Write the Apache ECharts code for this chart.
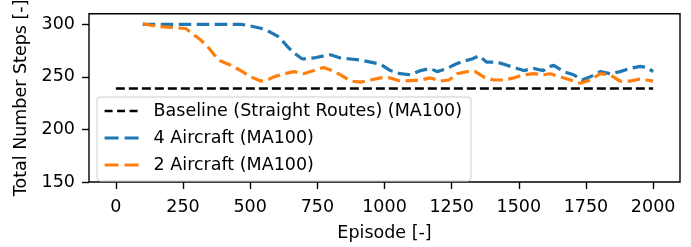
<!DOCTYPE html>
<html>
<head>
<meta charset="utf-8">
<script src="https://cdn.jsdelivr.net/npm/echarts@6/dist/echarts.min.js"></script>
<style>
  html, body { margin: 0; padding: 0; background: #fff; }
  #chart { width: 691px; height: 247px; }
</style>
</head>
<body>
<div id="chart"></div>
<script>
// MA100 curves
const episodes4 = [100, 200, 300, 400, 465, 502, 539, 576, 607, 638, 662, 694, 737, 774, 799, 836, 874, 911, 948, 985,
  1022, 1059, 1097, 1134, 1171, 1196, 1233, 1264, 1295, 1326, 1351, 1381, 1419, 1444, 1481, 1518, 1555, 1592, 1605, 1630,
  1667, 1704, 1735, 1766, 1803, 1840, 1877, 1914, 1952, 1976, 2000];
const steps4 = [300, 300, 300, 300, 300, 298.4, 296.3, 292.4, 288, 279, 273, 267, 268, 270, 271, 268, 267, 266, 264, 262,
  256, 253, 252, 256, 258, 255, 258, 262, 265, 267, 270, 264, 264, 262, 259, 256, 258, 256, 259, 261,
  255, 252, 247, 250, 255, 253, 255, 258, 260, 259, 255];

const episodes2 = [100, 155, 204, 260, 285, 316, 341, 366, 390, 428, 465, 502, 539, 563, 588, 613, 662, 699, 737, 774,
  805, 836, 874, 911, 948, 985, 1022, 1059, 1097, 1134, 1171, 1208, 1240, 1270, 1307, 1338, 1369, 1406, 1444, 1481,
  1518, 1555, 1592, 1617, 1654, 1692, 1729, 1766, 1803, 1840, 1877, 1914, 1952, 1976, 2000];
const steps2 = [300.5, 298, 297, 296, 291, 285, 279, 271, 265, 261, 256, 250, 246, 247, 250, 252, 255, 253, 256, 259,
  256, 252, 246, 245, 247, 249, 249, 246, 246.5, 247, 249, 246, 247, 253, 255, 255, 250, 247, 247, 249,
  252, 253, 252, 253, 250, 247, 244, 247, 253, 252, 246, 246, 248, 247, 246];

const baselineEpisodes = [0, 2000];
const baselineSteps = [239, 239];

const xTicks = [0, 250, 500, 750, 1000, 1250, 1500, 1750, 2000];
const yTicks = [150, 200, 250, 300];

const FONT = 'DejaVu Sans';
const FS = 17.5;

function zip(xs, ys) {
    return xs.map((x, i) => [x, ys[i]]);
}

let myChart = echarts.init(document.getElementById('chart'), null, { renderer: 'canvas' });

myChart.setOption({
    animation: false,
    backgroundColor: '#fff',
    grid: {
        left: 89, top: 12, width: 591, height: 177,
        show: true, borderColor: '#000', borderWidth: 1.4, backgroundColor: 'transparent'
    },
    legend: {
        orient: 'vertical',
        left: 97, top: 97,
        itemWidth: 34, itemHeight: 14, itemGap: 9,
        padding: [5, 9, 7, 6],
        backgroundColor: 'rgba(255,255,255,0.8)',
        borderColor: '#cccccc', borderWidth: 1, borderRadius: 3,
        itemStyle: { opacity: 0 },
        textStyle: { fontFamily: FONT, fontSize: FS, color: '#000', padding: [0, 0, 0, 10] },
        data: [
            { name: 'Baseline (Straight Routes) (MA100)', lineStyle: { type: [8, 4.5], width: 2.4 } },
            { name: '4 Aircraft (MA100)', lineStyle: { type: [14, 6], width: 3.2 } },
            { name: '2 Aircraft (MA100)', lineStyle: { type: [14, 6], width: 3.2 } }
        ]
    },
    xAxis: {
        type: 'value', min: -100, max: 2100,
        name: 'Episode [-]', nameLocation: 'middle', nameGap: 42,
        nameTextStyle: { fontFamily: FONT, fontSize: FS, color: '#000' },
        axisLine: { show: false, onZero: false },
        axisTick: { show: true, length: 7, lineStyle: { color: '#000', width: 1.4 }, customValues: xTicks },
        axisLabel: { fontFamily: FONT, fontSize: FS, color: '#000', margin: 16, customValues: xTicks,
            formatter: v => String(v) },
        splitLine: { show: false }
    },
    yAxis: {
        type: 'value', min: 150, max: 310,
        name: 'Total Number Steps [-]', nameLocation: 'middle', nameGap: 54,
        nameTextStyle: { fontFamily: FONT, fontSize: FS, color: '#000' },
        axisLine: { show: false, onZero: false },
        axisTick: { show: true, length: 7, lineStyle: { color: '#000', width: 1.4 }, customValues: yTicks },
        axisLabel: { fontFamily: FONT, fontSize: FS, color: '#000', margin: 14, customValues: yTicks,
            formatter: v => String(v) },
        splitLine: { show: false }
    },
    series: [
        {
            name: 'Baseline (Straight Routes) (MA100)', type: 'line', symbol: 'none',
            data: zip(baselineEpisodes, baselineSteps),
            lineStyle: { color: '#000', width: 2.4, type: [9, 4] },
            itemStyle: { color: '#000' }
        },
        {
            name: '4 Aircraft (MA100)', type: 'line', symbol: 'none',
            data: zip(episodes4, steps4),
            lineStyle: { color: '#1f77b4', width: 3.2, type: [12.5, 5.5] },
            itemStyle: { color: '#1f77b4' }
        },
        {
            name: '2 Aircraft (MA100)', type: 'line', symbol: 'none',
            data: zip(episodes2, steps2),
            lineStyle: { color: '#ff7f0e', width: 3.2, type: [12.5, 5.5] },
            itemStyle: { color: '#ff7f0e' }
        }
    ]
});
</script>
</body>
</html>
